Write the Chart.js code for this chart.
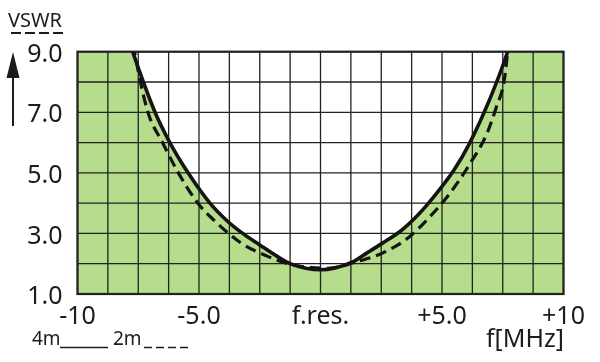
<!DOCTYPE html>
<html><head><meta charset="utf-8">
<script src="https://cdn.jsdelivr.net/npm/chart.js@4/dist/chart.umd.min.js"></script>
<style>html,body{margin:0;padding:0;background:#fff}#wrap{width:600px;height:362px}</style>
</head><body><div id="wrap"><canvas id="c" width="600" height="362"></canvas></div>
<script>
// ---- data ----
const freq4m = [-10, -8.05, -7.73, -6.81, -6.2, -5.45, -4.55, -3.85, -3.2, -2.5, -1.8, -1.25, -0.6, 0, 0.6, 1.3, 1.9, 2.55, 3.3, 4.0, 4.55, 5.5, 6.15, 6.95, 7.7, 8.0, 10];
const vswr4m = [30, 9.8, 9.0, 7.0, 6.0, 5.0, 4.0, 3.42, 3.0, 2.62, 2.25, 2.0, 1.85, 1.8, 1.86, 2.05, 2.35, 2.68, 3.08, 3.6, 4.1, 5.1, 6.0, 7.4, 9.0, 9.8, 30];
const freq2m = [-7.8, -7.65, -7.1, -6.5, -5.85, -5.05, -4.4, -3.3, -2.2, -1.25, 0.3, 1.5, 2.55, 3.6, 4.5, 5.3, 6.15, 6.85, 7.24, 7.55, 7.7, 7.78];
const vswr2m = [9.8, 9.0, 7.0, 6.0, 5.0, 4.0, 3.45, 2.7, 2.25, 1.98, 1.85, 2.07, 2.35, 2.85, 3.55, 4.3, 5.3, 6.3, 7.18, 8.0, 9.0, 9.8];
const xTickValues = [-10, -5, 0, 5, 10];
const xTickLabels = ['-10', '-5.0', 'f.res.', '+5.0', '+10'];
const yTickValues = [1, 3, 5, 7, 9];
const yTickLabels = ['1.0', '3.0', '5.0', '7.0', '9.0'];
const xGridStep = 1.25;
const yGridStep = 1;
const seriesNames = ['4m', '2m'];
const yTitle = 'VSWR';
const xTitle = 'f[MHz]';

const FONT = '"Noto Sans", "Open Sans", sans-serif';
const INK = '#1c1c1c';
const GREEN = '#b6dd8b';

const toPts = (xs, ys) => xs.map((x, i) => ({x: x, y: ys[i]}));

const decoPlugin = {
  id: 'deco',
  afterDatasetDraw(chart, args) {
    if (args.index !== 0) return;
    const {ctx, chartArea: a, scales: {x, y}} = chart;
    ctx.save();
    ctx.strokeStyle = '#222';
    ctx.lineWidth = 1.3;
    ctx.beginPath();
    for (let v = x.min; v <= x.max + 1e-9; v += xGridStep) {
      const px = x.getPixelForValue(v);
      ctx.moveTo(px, a.top); ctx.lineTo(px, a.bottom);
    }
    for (let v = y.min; v <= y.max + 1e-9; v += yGridStep) {
      const py = y.getPixelForValue(v);
      ctx.moveTo(a.left, py); ctx.lineTo(a.right, py);
    }
    ctx.stroke();
    ctx.lineWidth = 2.2;
    ctx.strokeRect(a.left, a.top, a.right - a.left, a.bottom - a.top);
    ctx.restore();
  },
  afterDraw(chart) {
    const ctx = chart.ctx;
    ctx.save();
    ctx.fillStyle = INK;
    ctx.strokeStyle = INK;
    // y title
    ctx.font = '20px ' + FONT;
    ctx.textAlign = 'left';
    ctx.textBaseline = 'alphabetic';
    ctx.fillText(yTitle, 8, 27);
    ctx.lineWidth = 2;
    ctx.setLineDash([10, 4]);
    ctx.beginPath(); ctx.moveTo(11, 33); ctx.lineTo(63, 33); ctx.stroke();
    ctx.setLineDash([]);
    // arrow
    ctx.beginPath(); ctx.moveTo(13, 76); ctx.lineTo(13, 126); ctx.stroke();
    ctx.beginPath(); ctx.moveTo(13, 52); ctx.lineTo(19.5, 78); ctx.lineTo(6.5, 78); ctx.closePath(); ctx.fill();
    // x title
    ctx.font = '25px ' + FONT;
    ctx.textAlign = 'right';
    ctx.fillText(xTitle, 564, 347);
    // legend
    ctx.font = '19px ' + FONT;
    ctx.textAlign = 'left';
    ctx.fillText(seriesNames[0], 32, 345);
    ctx.fillText(seriesNames[1], 113, 345);
    ctx.lineWidth = 1.6;
    ctx.beginPath(); ctx.moveTo(60, 347.5); ctx.lineTo(108, 347.5); ctx.stroke();
    ctx.setLineDash([8, 4]);
    ctx.beginPath(); ctx.moveTo(144, 347.5); ctx.lineTo(189, 347.5); ctx.stroke();
    ctx.restore();
  }
};

new Chart(document.getElementById('c'), {
  type: 'line',
  data: {
    datasets: [
      {
        data: toPts(freq4m, vswr4m),
        fill: 'start',
        backgroundColor: GREEN,
        borderColor: 'rgba(0,0,0,0)',
        borderWidth: 0,
        pointRadius: 0,
        cubicInterpolationMode: 'monotone',
        order: 3
      },
      {
        label: seriesNames[0],
        data: toPts(freq4m, vswr4m),
        fill: false,
        borderColor: '#141414',
        borderWidth: 3.6,
        pointRadius: 0,
        cubicInterpolationMode: 'monotone',
        order: 1
      },
      {
        label: seriesNames[1],
        data: toPts(freq2m, vswr2m),
        fill: false,
        borderColor: '#141414',
        borderWidth: 3.2,
        borderDash: [11, 6],
        pointRadius: 0,
        cubicInterpolationMode: 'monotone',
        order: 2
      }
    ]
  },
  options: {
    responsive: false,
    animation: false,
    devicePixelRatio: 1,
    layout: {padding: {left: 0, right: 36.5, top: 51.7, bottom: 0}},
    plugins: {legend: {display: false}, tooltip: {enabled: false}},
    scales: {
      x: {
        type: 'linear', min: -10, max: 10,
        afterBuildTicks: s => { s.ticks = xTickValues.map(v => ({value: v})); },
        afterFit: s => { s.height = 68; },
        ticks: {
          autoSkip: false, maxRotation: 0, padding: 8,
          color: INK, font: {family: FONT, size: 25},
          callback: (v, i) => xTickLabels[i]
        },
        grid: {display: false, drawTicks: false},
        border: {display: false}
      },
      y: {
        type: 'linear', min: 1, max: 9,
        afterBuildTicks: s => { s.ticks = yTickValues.map(v => ({value: v})); },
        afterFit: s => { s.width = 77.5; },
        ticks: {
          padding: 15, labelOffset: 3, color: INK, font: {family: FONT, size: 25},
          callback: (v, i) => yTickLabels[i]
        },
        grid: {display: false, drawTicks: false},
        border: {display: false}
      }
    }
  },
  plugins: [decoPlugin]
});
</script>
</body></html>
